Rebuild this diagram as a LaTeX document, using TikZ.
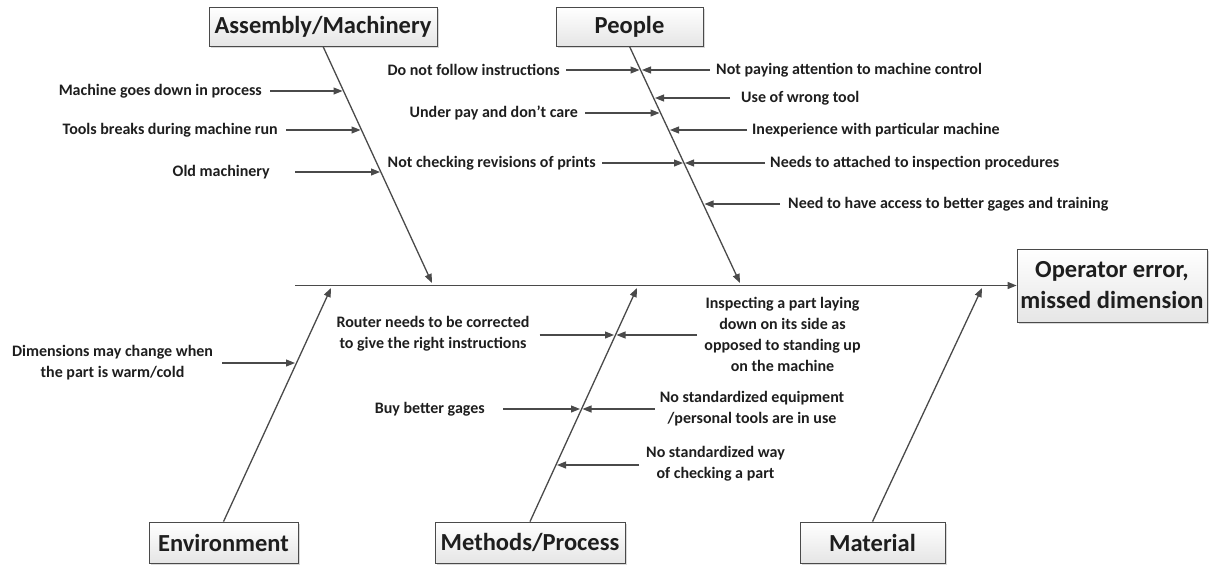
\documentclass[tikz,border=0pt]{standalone}
\usepackage{fontspec}
\setmainfont{Carlito}
\usetikzlibrary{arrows.meta,shadows}
\definecolor{ink}{HTML}{4A4A4A}
\definecolor{txt}{HTML}{1E1E1E}
\tikzset{
  x=1pt, y=-1pt,
  head/.style={draw=ink, line width=0.8pt, top color=white, bottom color=gray!20,
    drop shadow={shadow xshift=2pt, shadow yshift=-2pt, opacity=0.3},
    font=\bfseries\fontsize{24.5}{31}\selectfont, text=txt, inner sep=0pt, align=center},
  bone/.style={draw=ink, line width=1.3pt, -{Triangle[length=9pt,width=7pt]}},
  cause/.style={draw=ink, line width=1.1pt, -{Triangle[length=9pt,width=7pt]}},
  lbl/.style={font=\bfseries\fontsize{16}{21}\selectfont, text=txt, inner sep=0pt, align=center},
}
\begin{document}
\begin{tikzpicture}
\useasboundingbox (0,0) rectangle (1209,565);

% category boxes and the effect
\node[head, minimum width=228pt, minimum height=39pt] (am)  at (323,26.5)  {Assembly/Machinery};
\node[head, minimum width=147pt, minimum height=39pt] (pe)  at (629.5,26.5) {People};
\node[head, minimum width=149pt, minimum height=41pt] (env) at (223.5,542.5) {Environment};
\node[head, minimum width=190pt, minimum height=41pt] (mp)  at (530,542.5)  {Methods/Process};
\node[head, minimum width=145pt, minimum height=41pt] (mat) at (872.5,542.5) {Material};
\node[head, minimum width=190pt, minimum height=73pt] (eff) at (1112,285.5) {Operator error,\\missed dimension};

% spine
\coordinate (tail) at (295,285.5);
\draw[bone] (tail) -- (eff.west);

% bones
\coordinate (amE)  at (432,283);
\coordinate (peE)  at (740,283);
\coordinate (envE) at (331,288);
\coordinate (mpE)  at (637,288);
\coordinate (matE) at (982,288);
\draw[bone] (am.south) -- (amE);
\draw[bone] (pe.south) -- (peE);
\draw[bone] (env.north) -- (envE);
\draw[bone] (mp.north) -- (mpE);
\draw[bone] (mat.north) -- (matE);

% points where causes meet the bones
\coordinate (m1t) at (342.5,91);
\coordinate (m2t) at (360.5,130);
\coordinate (m3t) at (380,172);
\coordinate (p1t) at (639.5,70);
\coordinate (p2t) at (642,70);
\coordinate (p4t) at (655,98);
\coordinate (p3t) at (659.5,113);
\coordinate (p6t) at (670,130);
\coordinate (p5t) at (683,163);
\coordinate (p7t) at (685,163);
\coordinate (p8t) at (704.5,204);
\coordinate (e1t) at (295,363);
\coordinate (t1t) at (614,335);
\coordinate (t3t) at (616.5,335);
\coordinate (t2t) at (580,409);
\coordinate (t4t) at (582.5,409);
\coordinate (t5t) at (557,465);

% Assembly/Machinery causes
\node[lbl, anchor=east] (m1) at (262,91)  {Machine goes down in process};
\node[lbl, anchor=east] (m2) at (278,130) {Tools breaks during machine run};
\node[lbl, anchor=east] (m3) at (270,172) {Old machinery};
\draw[cause, shorten <=8pt]  (m1.east |- m1t) -- (m1t);
\draw[cause, shorten <=8pt]  (m2.east |- m2t) -- (m2t);
\draw[cause, shorten <=25pt] (m3.east |- m3t) -- (m3t);

% People causes
\node[lbl, anchor=east] (p1) at (560,70)  {Do not follow instructions};
\node[lbl, anchor=west] (p2) at (716,70)  {Not paying attention to machine control};
\node[lbl, anchor=west] (p4) at (741,98)  {Use of wrong tool};
\node[lbl, anchor=east] (p3) at (578,113) {Under pay and don’t care};
\node[lbl, anchor=west] (p6) at (752,130) {Inexperience with particular machine};
\node[lbl, anchor=east] (p5) at (596,163) {Not checking revisions of prints};
\node[lbl, anchor=west] (p7) at (770,163) {Needs to attached to inspection procedures};
\node[lbl, anchor=west] (p8) at (788,204) {Need to have access to better gages and training};
\draw[cause, shorten <=6pt]  (p1.east |- p1t) -- (p1t);
\draw[cause, shorten <=6pt]  (p2.west |- p2t) -- (p2t);
\draw[cause, shorten <=11pt] (p4.west |- p4t) -- (p4t);
\draw[cause, shorten <=7pt]  (p3.east |- p3t) -- (p3t);
\draw[cause, shorten <=5pt]  (p6.west |- p6t) -- (p6t);
\draw[cause, shorten <=6pt]  (p5.east |- p5t) -- (p5t);
\draw[cause, shorten <=5pt]  (p7.west |- p7t) -- (p7t);
\draw[cause, shorten <=8pt]  (p8.west |- p8t) -- (p8t);

% Environment cause
\node[lbl] (e1) at (112.5,363) {Dimensions may change when\\the part is warm/cold};
\draw[cause, shorten <=9pt] (e1.east |- e1t) -- (e1t);

% Methods/Process causes
\node[lbl] (t1) at (433,334) {Router needs to be corrected\\to give the right instructions};
\node[lbl] (t3) at (782.5,334.5) {Inspecting a part laying\\down on its side as\\opposed to standing up\\on the machine};
\node[lbl, anchor=east] (t2) at (485,409) {Buy better gages};
\node[lbl] (t4) at (752,408.5) {No standardized equipment\\/personal tools are in use};
\node[lbl] (t5) at (715.5,463.5) {No standardized way\\of checking a part};
\draw[cause, shorten <=10pt] (t1.east |- t1t) -- (t1t);
\draw[cause, shorten <=7pt]  (t3.west |- t3t) -- (t3t);
\draw[cause, shorten <=18pt] (t2.east |- t2t) -- (t2t);
\draw[cause, shorten <=5pt]  (t4.west |- t4t) -- (t4t);
\draw[cause, shorten <=7pt]  (t5.west |- t5t) -- (t5t);
\end{tikzpicture}
\end{document}
